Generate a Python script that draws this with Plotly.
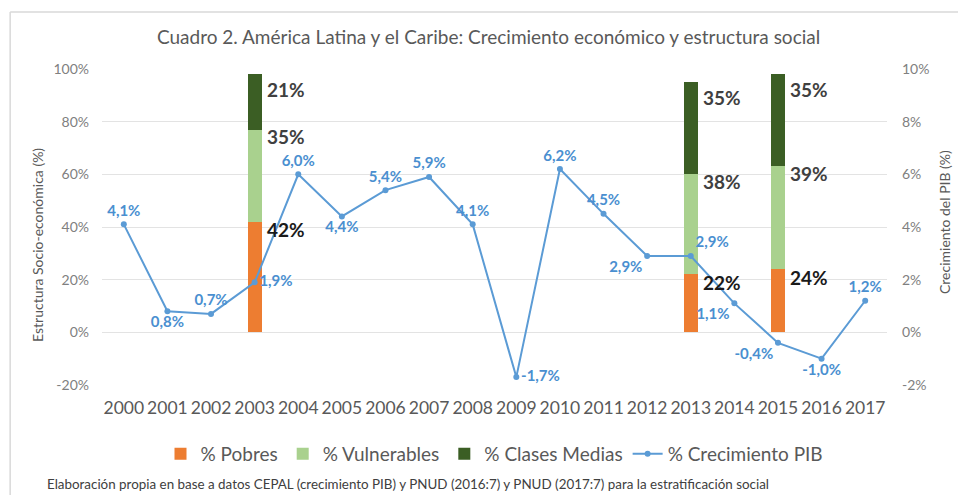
import plotly.graph_objects as go

years = [str(y) for y in range(2000, 2018)]
pib = [4.1, 0.8, 0.7, 1.9, 6.0, 4.4, 5.4, 5.9, 4.1, -1.7, 6.2, 4.5, 2.9, 2.9, 1.1, -0.4, -1.0, 1.2]
pib_pos = ["top center", "bottom center", "top center", "middle right", "top center",
           "bottom center", "top center", "top center", "top center", "middle right",
           "top center", "top center", "bottom left", "top right", "bottom left",
           "bottom left", "bottom center", "top center"]

bar_years = ["2003", "2013", "2015"]
pobres = [42, 22, 24]
vulnerables = [35, 38, 39]
clases_medias = [21, 35, 35]

left_ticks = [-20, 0, 20, 40, 60, 80, 100]
left_labels = ["-20%", "0%", "20%", "40%", "60%", "80%", "100%"]
right_ticks = [-2, 0, 2, 4, 6, 8, 10]
right_labels = ["-2%", "0%", "2%", "4%", "6%", "8%", "10%"]

title_text = "Cuadro 2. América Latina y el Caribe: Crecimiento económico y estructura social"
note_text = ("Elaboración propia en base a datos CEPAL (crecimiento PIB) y PNUD (2016:7) "
             "y PNUD (2017:7) para la estratificación social")

C_ORANGE = "#ED7D31"
C_LGREEN = "#A9D18E"
C_DGREEN = "#3B5E24"
C_BLUE = "#5B9BD5"
FONT = "Lato"

fig = go.Figure()
bw = 0.32
fig.add_bar(x=bar_years, y=pobres, name="% Pobres", marker_color=C_ORANGE, width=bw,
            marker_line_width=0)
fig.add_bar(x=bar_years, y=vulnerables, name="% Vulnerables", marker_color=C_LGREEN, width=bw,
            marker_line_width=0)
fig.add_bar(x=bar_years, y=clases_medias, name="% Clases Medias", marker_color=C_DGREEN, width=bw,
            marker_line_width=0)

pib_text = [f"{v:.1f}".replace(".", ",") + "%" for v in pib]
fig.add_scatter(x=years, y=pib, yaxis="y2", name="% Crecimiento PIB", mode="lines+markers+text",
                line=dict(color=C_BLUE, width=2), marker=dict(size=6, color=C_BLUE),
                text=pib_text, textposition=pib_pos,
                textfont=dict(family=FONT, size=15, color="#4A8FD0", weight="bold"),
                cliponaxis=False)

# segment labels to the right of bars
for i, yr in enumerate(bar_years):
    xi = years.index(yr)
    tops = [pobres[i], pobres[i] + vulnerables[i], pobres[i] + vulnerables[i] + clases_medias[i]]
    vals = [pobres[i], vulnerables[i], clases_medias[i]]
    shifts = [-8, -7, -15]
    cols = ["#1a1a1a", "#404040", "#404040"]
    for t, v, s, c in zip(tops, vals, shifts, cols):
        fig.add_annotation(x=xi, y=t, xref="x", yref="y", text=f"<b>{v}%</b>", showarrow=False,
                           xanchor="left", yanchor="middle", xshift=10, yshift=s,
                           font=dict(family=FONT, size=19, color=c))

# axis titles and footnote
fig.add_annotation(xref="paper", yref="paper", x=-0.0828, y=0.443, xanchor="center", yanchor="middle",
                   text="Estructura Socio-económica (%)",
                   textangle=-90, showarrow=False, font=dict(family=FONT, size=14, color="#595959"))
fig.add_annotation(xref="paper", yref="paper", x=1.074, y=0.516, xanchor="center", yanchor="middle",
                   text="Crecimiento del PIB (%)",
                   textangle=-90, showarrow=False, font=dict(family=FONT, size=14, color="#595959"))
fig.add_annotation(xref="paper", yref="paper", x=-0.0726, y=-0.313, text=note_text,
                   xanchor="left", yanchor="middle", showarrow=False,
                   font=dict(family=FONT, size=13.4, color="#404040"))

# chart frame
fig.add_shape(type="line", xref="paper", yref="paper", x0=-0.117, x1=1.1, y0=1.18, y1=1.18,
              line=dict(color="#D9D9D9", width=1.5))
fig.add_shape(type="line", xref="paper", yref="paper", x0=-0.117, x1=-0.117, y0=1.18, y1=-0.4,
              line=dict(color="#D9D9D9", width=1.5))

fig.update_layout(
    width=958, height=495,
    margin=dict(l=102, r=71, t=69, b=110),
    paper_bgcolor="white", plot_bgcolor="white",
    barmode="stack",
    font=dict(family=FONT, color="#595959"),
    title=dict(text=title_text, x=0.51, xanchor="center", y=1 - 37 / 495, yanchor="middle",
               yref="container", font=dict(family=FONT, size=19, color="#595959")),
    xaxis=dict(type="category", categoryorder="array", categoryarray=years,
               range=[-0.5, len(years) - 0.5], showgrid=False, zeroline=False, showline=False,
               tickfont=dict(family=FONT, size=17.5, color="#595959"), ticks="",
               ticklabelstandoff=10),
    yaxis=dict(range=[-20, 100], tickvals=left_ticks, ticktext=left_labels, showgrid=True,
               gridcolor="#E3E3E3", gridwidth=1, zeroline=False, showline=False,
               tickfont=dict(family=FONT, size=14, color="#808080"), ticklabelstandoff=12),
    yaxis2=dict(range=[-2, 10], tickvals=right_ticks, ticktext=right_labels, overlaying="y",
                side="right", showgrid=False, zeroline=False, showline=False,
                tickfont=dict(family=FONT, size=14, color="#808080"), ticklabelstandoff=14),
    legend=dict(orientation="h", x=0.5, xanchor="center", y=-0.218, yanchor="middle",
                font=dict(family=FONT, size=19, color="#595959"), traceorder="normal",
                itemwidth=30, entrywidth=0),
    showlegend=True,
)

fig.write_html("out.html")
